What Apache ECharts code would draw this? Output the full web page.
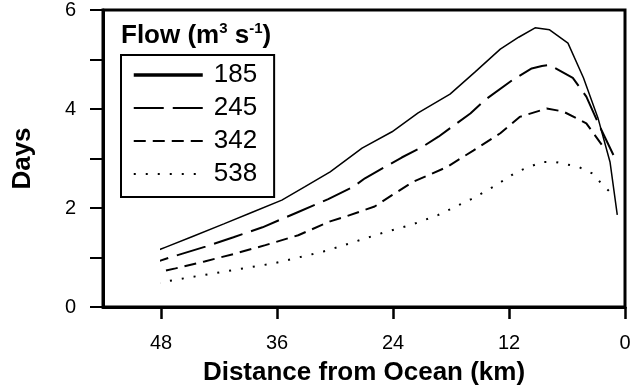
<!DOCTYPE html>
<html>
<head>
<meta charset="utf-8">
<script src="https://cdn.jsdelivr.net/npm/echarts@6/dist/echarts.min.js"></script>
<style>
  html, body { margin: 0; padding: 0; background: #fff; }
  #chart { width: 640px; height: 386px; }
</style>
</head>
<body>
<div id="chart"></div>
<script>
// distance from ocean (km) and residence time (days), one pair per flow
const km185 = [50.6, 47.5, 44.8, 41.5, 38.5, 35.5, 33.1, 30.5, 27.2, 24.1, 21.4, 18.1, 15.5, 12.9, 11.0, 9.3, 7.8, 5.9, 4.3, 2.8, 1.55, 0.8]
const days185 = [0.97, 1.21, 1.42, 1.68, 1.92, 2.16, 2.43, 2.73, 3.21, 3.54, 3.92, 4.30, 4.75, 5.21, 5.45, 5.64, 5.60, 5.33, 4.63, 3.82, 2.93, 1.86]

const km245 = [50.2, 47.1, 43.4, 40.5, 37.5, 33.8, 30.7, 28.1, 26.9, 23.1, 21.0, 19.3, 16.0, 14.5, 11.6, 9.65, 8.6, 7.8, 5.4, 4.0, 2.6, 1.2]
const days245 = [0.80, 1.00, 1.22, 1.41, 1.61, 1.92, 2.18, 2.43, 2.60, 3.02, 3.23, 3.44, 3.91, 4.18, 4.59, 4.82, 4.87, 4.89, 4.63, 4.25, 3.64, 3.07]

const km342 = [49.4, 46.5, 43.5, 40.5, 37.2, 33.8, 30.5, 29.0, 25.9, 24.1, 21.9, 18.4, 15.7, 12.9, 10.9, 8.1, 6.4, 4.0, 2.0]
const days342 = [0.65, 0.78, 0.92, 1.07, 1.25, 1.45, 1.73, 1.82, 2.03, 2.26, 2.53, 2.83, 3.16, 3.51, 3.84, 4.01, 3.95, 3.71, 3.17]

const km538 = [48.3, 45.0, 41.6, 36.4, 31.2, 28.4, 24.7, 22.1, 19.3, 15.9, 13.6, 11.2, 8.6, 7.2, 4.8, 3.4, 2.6, 1.5, 1.2]
const days538 = [0.49, 0.60, 0.71, 0.88, 1.12, 1.29, 1.52, 1.66, 1.86, 2.18, 2.43, 2.73, 2.93, 2.93, 2.83, 2.70, 2.53, 2.31, 2.26]

const flows = ['185', '245', '342', '538']
const yLabels = [0, 2, 4, 6]

const FONT = 'Liberation Sans, Arial, sans-serif'
const X_MAX = 54 // km at the left edge of the frame
const X_TICK_MAX = 48 // last tick

// plot frame in px
const PLOT_LEFT = 103
const PLOT_RIGHT = 15
const PLOT_TOP = 10
const PLOT_BOTTOM = 79
const PLOT_W = 640 - PLOT_LEFT - PLOT_RIGHT

function pairs(xs, ys) {
  return xs.map((x, i) => [x, ys[i]])
}

// series live on the 0..48 km grid (same scale, extended past its left edge)
function lineSeries(name, xs, ys, width, dash) {
  return {
    name,
    type: 'line',
    xAxisIndex: 1,
    yAxisIndex: 1,
    data: pairs(xs, ys),
    symbol: 'none',
    smooth: false,
    clip: false,
    color: '#000',
    lineStyle: { color: '#000', width, type: dash }
  }
}

const chart = echarts.init(document.getElementById('chart'), null, { renderer: 'canvas' })

chart.setOption({
  animation: false,
  backgroundColor: '#fff',
  textStyle: { fontFamily: FONT },
  grid: [
    {
      left: PLOT_LEFT,
      right: PLOT_RIGHT,
      top: PLOT_TOP,
      bottom: PLOT_BOTTOM,
      outerBoundsMode: 'none',
      show: true,
      borderColor: '#000',
      borderWidth: 3
    },
    {
      left: PLOT_LEFT + PLOT_W * (X_MAX - X_TICK_MAX) / X_MAX,
      right: PLOT_RIGHT,
      top: PLOT_TOP,
      bottom: PLOT_BOTTOM,
      outerBoundsMode: 'none',
      show: false
    }
  ],
  title: {
    text: '{b|Flow (m}{sup|3}{b| s}{sup|-1}{b|)}',
    left: 121,
    top: 21,
    padding: 0,
    textStyle: {
      rich: {
        b: { fontFamily: FONT, fontSize: 26, fontWeight: 'bold', color: '#000', lineHeight: 30 },
        sup: { fontFamily: FONT, fontSize: 15, fontWeight: 'bold', color: '#000', lineHeight: 15, verticalAlign: 'top' }
      }
    }
  },
  legend: {
    orient: 'vertical',
    left: 121,
    top: 55,
    padding: [7, 17, 10, 11],
    itemGap: 7,
    itemWidth: 69,
    itemHeight: 14,
    borderColor: '#000',
    borderWidth: 2,
    selectedMode: false,
    itemStyle: { opacity: 0 },
    lineStyle: { width: 'inherit' },
    textStyle: { fontFamily: FONT, fontSize: 26, color: '#000', padding: [0, 0, 0, 6] },
    data: [
      { name: flows[0], lineStyle: { width: 3.5 } },
      flows[1],
      flows[2],
      flows[3]
    ]
  },
  xAxis: [
    {
      type: 'value',
      gridIndex: 0,
      position: 'bottom',
      inverse: true,
      min: 0,
      max: X_MAX,
      interval: 6,
      name: 'Distance from Ocean (km)',
      nameLocation: 'middle',
      nameGap: 53,
      nameTextStyle: { fontFamily: FONT, fontSize: 26, fontWeight: 'bold', color: '#000' },
      axisLine: { show: true, onZero: false, lineStyle: { color: '#000', width: 3 } },
      axisTick: { show: false },
      axisLabel: { show: false },
      splitLine: { show: false }
    },
    {
      type: 'value',
      gridIndex: 1,
      position: 'bottom',
      inverse: true,
      min: 0,
      max: X_TICK_MAX,
      interval: 12,
      axisLine: { show: false, onZero: false },
      axisTick: { show: true, inside: false, length: 12, lineStyle: { color: '#000', width: 2.5 } },
      axisLabel: { margin: 26, fontFamily: FONT, fontSize: 20, color: '#000' },
      splitLine: { show: false }
    }
  ],
  yAxis: [
    {
      type: 'value',
      gridIndex: 0,
      position: 'left',
      min: 0,
      max: 6,
      interval: 1,
      name: 'Days',
      nameLocation: 'middle',
      nameRotate: 90,
      nameGap: 67,
      nameTextStyle: { fontFamily: FONT, fontSize: 26, fontWeight: 'bold', color: '#000' },
      axisLine: { show: true, onZero: false, lineStyle: { color: '#000', width: 3 } },
      axisTick: { show: true, length: 13, lineStyle: { color: '#000', width: 2 } },
      axisLabel: { margin: 27, fontFamily: FONT, fontSize: 20, color: '#000', customValues: yLabels },
      splitLine: { show: false }
    },
    {
      type: 'value',
      gridIndex: 1,
      min: 0,
      max: 6,
      interval: 1,
      axisLine: { show: false, onZero: false },
      axisTick: { show: false },
      axisLabel: { show: false },
      splitLine: { show: false }
    }
  ],
  series: [
    lineSeries(flows[0], km185, days185, 1.5, 'solid'),
    lineSeries(flows[1], km245, days245, 2, [30, 9]),
    lineSeries(flows[2], km342, days342, 2, [12, 7]),
    lineSeries(flows[3], km538, days538, 2, [2, 10])
  ]
})
</script>
</body>
</html>
